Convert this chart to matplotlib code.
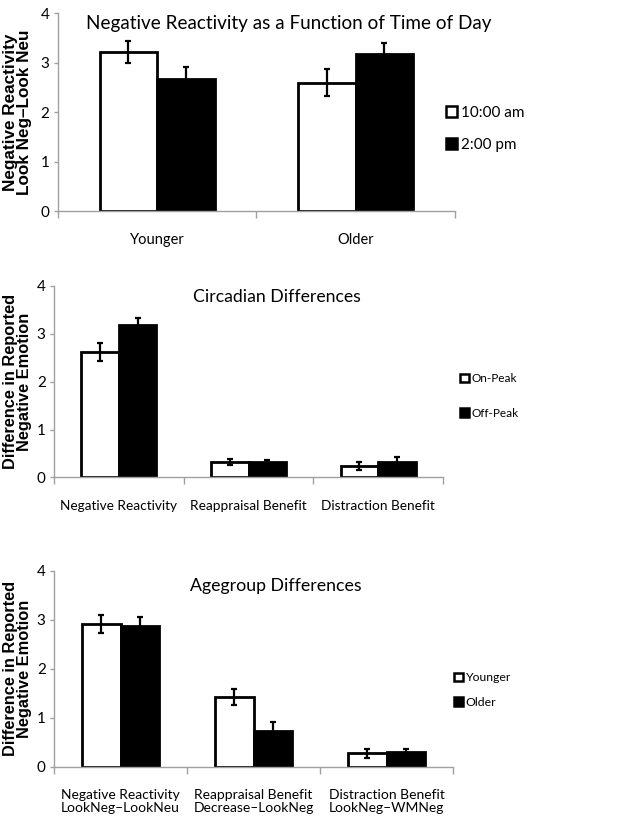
import matplotlib
matplotlib.use('Agg')
import matplotlib.pyplot as plt
from matplotlib.patches import Patch
import numpy as np

# panel 1: time of day
p1_groups = ['Younger', 'Older']
p1_series = ['10:00 am', '2:00 pm']
p1_am = [3.21, 2.59]
p1_am_err = [0.22, 0.27]
p1_pm = [2.66, 3.17]
p1_pm_err = [0.24, 0.22]

# panel 2: circadian
p2_groups = ['Negative Reactivity', 'Reappraisal Benefit', 'Distraction Benefit']
p2_series = ['On-Peak', 'Off-Peak']
p2_on = [2.62, 0.32, 0.24]
p2_on_err = [0.19, 0.07, 0.08]
p2_off = [3.18, 0.32, 0.33]
p2_off_err = [0.15, 0.04, 0.10]

# panel 3: agegroup
p3_groups = ['Negative Reactivity\nLookNeg\u2013LookNeu',
             'Reappraisal Benefit\nDecrease\u2013LookNeg',
             'Distraction Benefit\nLookNeg\u2013WMNeg']
p3_series = ['Younger', 'Older']
p3_young = [2.92, 1.42, 0.27]
p3_young_err = [0.18, 0.16, 0.10]
p3_old = [2.88, 0.74, 0.30]
p3_old_err = [0.18, 0.17, 0.07]

FONT = 'Lato'
LABFONT = 'Liberation Sans'
SPINE = '#a0a0a0'

fig = plt.figure(figsize=(6.29, 8.23), dpi=100)


def draw_panel(rect, groups, vals1, err1, vals2, err2, series, ylabel,
               ylab_size, title, title_xy, title_size, leg_xy, leg_size,
               leg_space, tick_size, width=0.29):
    ax = fig.add_axes(rect)
    x = np.arange(len(groups))
    ekw = dict(ecolor='black', elinewidth=1.6, capsize=2.3, capthick=1.6)
    ax.bar(x - width / 2, vals1, width, yerr=err1, color='white',
           edgecolor='black', linewidth=2, error_kw=ekw, zorder=2)
    ax.bar(x + width / 2, vals2, width, yerr=err2, color='black',
           edgecolor='black', linewidth=2, error_kw=ekw, zorder=2)
    ax.set_xlim(-0.5, len(groups) - 0.5)
    ax.set_ylim(0, 4)
    ax.set_yticks([0, 1, 2, 3, 4])
    ax.set_xticks(x)
    ax.set_xticklabels(groups, fontsize=tick_size, family=FONT,
                       linespacing=1.1)
    ax.set_xticks(np.arange(len(groups) + 1) - 0.5, minor=True)
    ax.tick_params(axis='x', which='major', length=0, pad=16)
    ax.tick_params(axis='x', which='minor', length=5, color=SPINE, width=1)
    ax.tick_params(axis='y', length=3, color=SPINE, width=1, pad=3,
                   labelsize=11)
    for t in ax.get_yticklabels():
        t.set_family(FONT)
    for s in ['top', 'right']:
        ax.spines[s].set_visible(False)
    for s in ['left', 'bottom']:
        ax.spines[s].set_color(SPINE)
        ax.spines[s].set_linewidth(1)
    fig.text(17.5 / 629, rect[1] + rect[3] / 2, ylabel, fontsize=ylab_size,
             fontweight='bold', family=LABFONT, rotation=90, ha='center',
             va='center', linespacing=0.92, multialignment='center')
    fig.text(title_xy[0], title_xy[1], title, fontsize=title_size,
             family=FONT, ha='center', va='center')
    handles = [Patch(facecolor='white', edgecolor='black', linewidth=1.8),
               Patch(facecolor='black', edgecolor='black', linewidth=1.8)]
    fig.legend(handles, series, loc='center left', bbox_to_anchor=leg_xy,
               frameon=False, handlelength=0.75, handleheight=0.75,
               handletextpad=0.2, labelspacing=leg_space, borderpad=0,
               borderaxespad=0, prop={'family': FONT, 'size': leg_size})
    return ax


draw_panel([0.0922, 0.7436, 0.631, 0.2406], p1_groups, p1_am, p1_am_err,
           p1_pm, p1_pm_err, p1_series,
           'Negative Reactivity\nLook Neg\u2013Look Neu', 12.3,
           'Negative Reactivity as a Function of Time of Day',
           (289 / 629, 1 - 24 / 823), 13.6, (446 / 629, 1 - 129 / 823),
           11, 1.2, 10.5)

draw_panel([0.0859, 0.4200, 0.6184, 0.2325], p2_groups, p2_on, p2_on_err,
           p2_off, p2_off_err, p2_series,
           'Difference in Reported\nNegative Emotion', 11.8,
           'Circadian Differences',
           (277 / 629, 1 - 297 / 823), 12.7, (460 / 629, 1 - 396 / 823),
           8.5, 2.0, 9.8)

draw_panel([0.0859, 0.0684, 0.6343, 0.2378], p3_groups, p3_young,
           p3_young_err, p3_old, p3_old_err, p3_series,
           'Difference in Reported\nNegative Emotion', 11.8,
           'Agegroup Differences',
           (276 / 629, 1 - 586 / 823), 12.8, (454 / 629, 1 - 690 / 823),
           8.8, 1.1, 10)

fig.savefig('out.png', dpi=100)
